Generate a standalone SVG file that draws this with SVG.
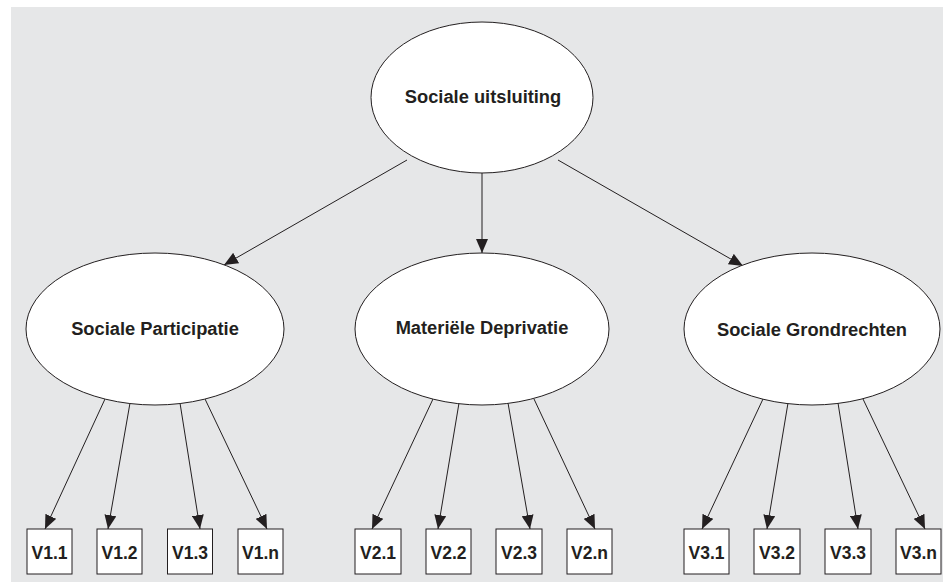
<svg xmlns="http://www.w3.org/2000/svg" width="943" height="582" viewBox="0 0 943 582">
<defs>
<marker id="arr" viewBox="0 0 14 12" refX="14" refY="6" markerWidth="14" markerHeight="12" markerUnits="userSpaceOnUse" orient="auto">
<path d="M0,0 L14,6 L0,12 Z" fill="#231f20"/>
</marker>
</defs>
<style>
.bg{fill:#e6e7e8}
.node ellipse,.node rect{fill:#fff;stroke:#231f20;stroke-width:1}
.lbl{font-family:"Liberation Sans",Arial,sans-serif;font-weight:bold;fill:#231f20;text-anchor:middle}
.big{font-size:18.3px}
.small{font-size:17.5px}
#connectors line{stroke:#231f20;stroke-width:1;marker-end:url(#arr)}
</style>
<rect class="bg" x="11" y="7" width="932" height="575"/>
<g id="connectors">
<line x1="407" y1="160" x2="224" y2="265"/>
<line x1="482" y1="173" x2="482" y2="253"/>
<line x1="558" y1="160" x2="743" y2="266"/>
<line x1="105" y1="399" x2="45" y2="529"/>
<line x1="130" y1="403" x2="108" y2="529"/>
<line x1="180" y1="403" x2="200" y2="529"/>
<line x1="205" y1="399" x2="267" y2="529"/>
<line x1="433" y1="399" x2="372" y2="529"/>
<line x1="459" y1="403" x2="438" y2="529"/>
<line x1="508" y1="403" x2="530" y2="529"/>
<line x1="534" y1="399" x2="595" y2="529"/>
<line x1="763" y1="399" x2="702" y2="529"/>
<line x1="788" y1="403" x2="767" y2="529"/>
<line x1="838" y1="403" x2="858" y2="529"/>
<line x1="863" y1="399" x2="925" y2="529"/>
</g>
<g id="n-root" class="node"><ellipse cx="482" cy="97.5" rx="111" ry="75.5"/><text class="lbl big" x="483" y="103">Sociale uitsluiting</text></g>
<g id="n-sp" class="node"><ellipse cx="155" cy="329" rx="129" ry="76"/><text class="lbl big" x="155" y="334.5">Sociale Participatie</text></g>
<g id="n-md" class="node"><ellipse cx="482" cy="329" rx="127" ry="76"/><text class="lbl big" x="482" y="334">Materiële Deprivatie</text></g>
<g id="n-sg" class="node"><ellipse cx="812" cy="329" rx="128" ry="76"/><text class="lbl big" x="812" y="336">Sociale Grondrechten</text></g>
<g id="v11" class="node"><rect x="27" y="529" width="45" height="45"/><text class="lbl small" x="49.5" y="559">V1.1</text></g>
<g id="v12" class="node"><rect x="97" y="529" width="45" height="45"/><text class="lbl small" x="119.5" y="559">V1.2</text></g>
<g id="v13" class="node"><rect x="167.5" y="529" width="45" height="45"/><text class="lbl small" x="190" y="559">V1.3</text></g>
<g id="v1n" class="node"><rect x="238" y="529" width="45" height="45"/><text class="lbl small" x="260.5" y="559">V1.n</text></g>
<g id="v21" class="node"><rect x="355" y="529" width="46" height="45"/><text class="lbl small" x="378" y="559">V2.1</text></g>
<g id="v22" class="node"><rect x="426" y="529" width="45" height="45"/><text class="lbl small" x="448.5" y="559">V2.2</text></g>
<g id="v23" class="node"><rect x="496" y="529" width="46" height="45"/><text class="lbl small" x="519" y="559">V2.3</text></g>
<g id="v2n" class="node"><rect x="567" y="529" width="45" height="45"/><text class="lbl small" x="589.5" y="559">V2.n</text></g>
<g id="v31" class="node"><rect x="684" y="529" width="45" height="45"/><text class="lbl small" x="706.5" y="559">V3.1</text></g>
<g id="v32" class="node"><rect x="754" y="529" width="46" height="45"/><text class="lbl small" x="777" y="559">V3.2</text></g>
<g id="v33" class="node"><rect x="825" y="529" width="46" height="45"/><text class="lbl small" x="848" y="559">V3.3</text></g>
<g id="v3n" class="node"><rect x="896" y="529" width="45" height="45"/><text class="lbl small" x="918.5" y="559">V3.n</text></g>
</svg>
